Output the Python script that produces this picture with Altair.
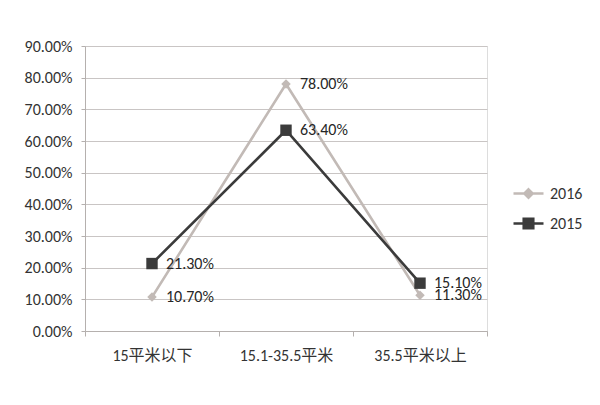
import altair as alt
import pandas as pd

categories = ["15平米以下", "15.1-35.5平米", "35.5平米以上"]
series = ["2016", "2015"]
values_2016 = [0.107, 0.78, 0.113]
values_2015 = [0.213, 0.634, 0.151]
y_ticks = [0, 0.1, 0.2, 0.3, 0.4, 0.5, 0.6, 0.7, 0.8, 0.9]

colors = {"2016": "#c2bab6", "2015": "#3b3b3b"}
shapes = {"2016": "diamond", "2015": "square"}
sizes = {"2016": 90, "2015": 130}
legend_paths = {"2016": "M-1,0H1M0,-0.28L0.28,0L0,0.28L-0.28,0Z",
                "2015": "M-1,0H1M-0.32,-0.32H0.32V0.32H-0.32Z"}
legend_y = {"2016": 131, "2015": 161}

rows = []
for s, vals in zip(series, [values_2016, values_2015]):
    for c, v in zip(categories, vals):
        rows.append({"cat": c, "year": s, "value": v})
df = pd.DataFrame(rows)

FONT = "Carlito, Calibri, Liberation Sans, Noto Sans CJK SC"
FS = 16

x_enc = alt.X("cat:N", sort=categories, title=None,
              scale=alt.Scale(type="band", paddingInner=0, paddingOuter=0),
              axis=alt.Axis(labelAngle=0, tickBand="extent", labelPadding=11,
                            labelFontSize=FS, labelColor="#333333", labelFont=FONT,
                            domainColor="#b5b0ae", tickColor="#b5b0ae", tickSize=5,
                            grid=False))
y_enc = alt.Y("value:Q", title=None,
              scale=alt.Scale(domain=[0, 0.9], nice=False),
              axis=alt.Axis(values=y_ticks, format=".2%", labelFontSize=FS,
                            labelColor="#333333", labelFont=FONT, labelPadding=9,
                            domainColor="#b5b0ae", tickColor="#b5b0ae", tickSize=4,
                            gridColor="#c9c5c4", gridWidth=1))

layers = []
for s in series:
    base = alt.Chart(df).transform_filter(alt.datum.year == s).encode(x=x_enc, y=y_enc)
    line = base.mark_line(strokeWidth=2.6, color=colors[s])
    pts = base.mark_point(filled=True, opacity=1, shape=shapes[s], size=sizes[s]).encode(
        color=alt.Color("year:N", scale=alt.Scale(domain=[s], range=[colors[s]]),
                        legend=alt.Legend(title=None, orient="none", legendX=427,
                                          legendY=legend_y[s], symbolSize=900,
                                          symbolType=legend_paths[s],
                                          symbolFillColor=colors[s],
                                          symbolStrokeColor=colors[s],
                                          symbolStrokeWidth=2.5, symbolOpacity=1,
                                          labelFontSize=FS, labelColor="#333333",
                                          labelFont=FONT, labelOffset=5, padding=0)))
    layers += [line, pts]

labels = alt.Chart(df).mark_text(align="left", baseline="middle", dx=14, fontSize=FS,
                                 color="#262626", font=FONT).encode(
    x=x_enc, y=y_enc, text=alt.Text("value:Q", format=".2%"))

chart = alt.layer(*layers, labels).resolve_scale(color="independent").properties(
    width=402, height=285,
    autosize=alt.AutoSizeParams(type="none"),
    padding={"left": 77, "top": 38, "right": 105, "bottom": 66},
).configure_view(stroke=None).configure(background="white")

chart.save("out.html", embed_options={"renderer": "svg", "actions": False})
